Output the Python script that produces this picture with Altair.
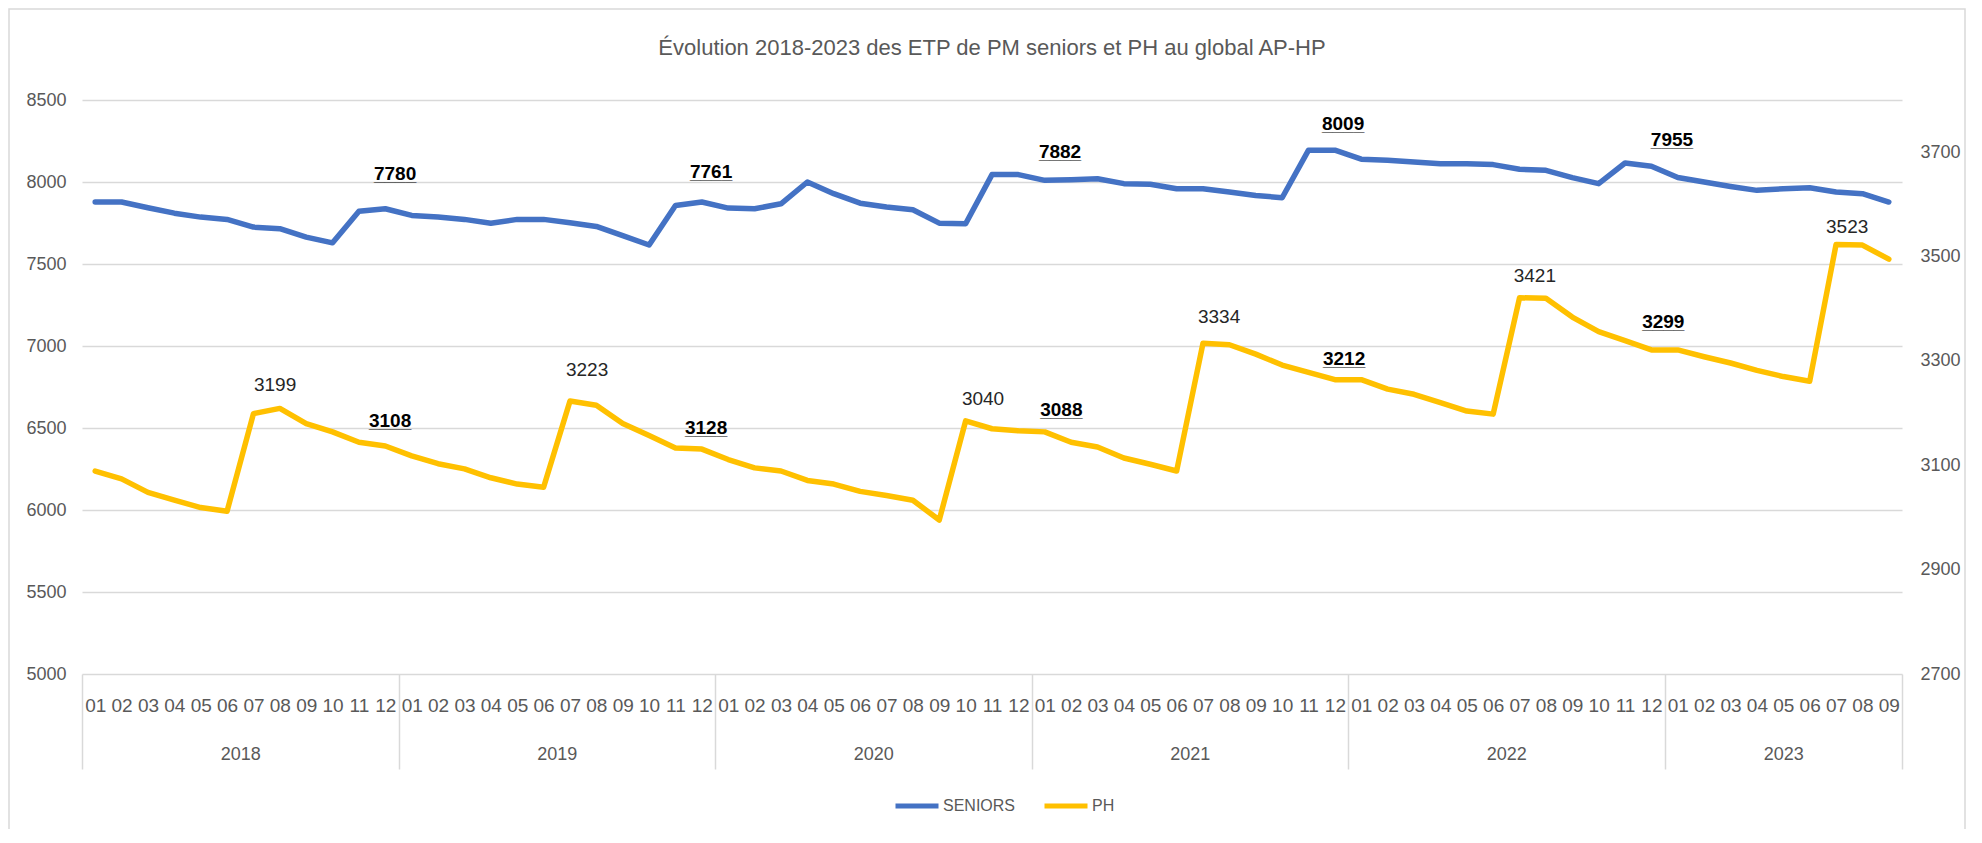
import json
import altair as alt
import pandas as pd

# ---------------- data ----------------
years = ["2018", "2019", "2020", "2021", "2022", "2023"]
months_per_year = [12, 12, 12, 12, 12, 9]
month_names = ["01", "02", "03", "04", "05", "06", "07", "08", "09", "10", "11", "12"]

seniors = [7878, 7878, 7843, 7810, 7786, 7772, 7725, 7715, 7664, 7629, 7821, 7837,
           7796, 7786, 7772, 7749, 7772, 7772, 7752, 7729, 7673, 7616, 7857, 7878,
           7841, 7837, 7867, 8000, 7929, 7871, 7847, 7831, 7749, 7745, 8045, 8045,
           8010, 8014, 8020, 7990, 7986, 7959, 7959, 7939, 7918, 7904, 8194, 8194,
           8139, 8133, 8122, 8112, 8112, 8106, 8078, 8071, 8027, 7990, 8116, 8096,
           8027, 8000, 7973, 7949, 7959, 7965, 7939, 7929, 7878]

ph = [3089, 3074, 3048, 3033, 3019, 3012, 3199, 3209, 3180, 3164, 3144, 3137,
      3118, 3103, 3093, 3076, 3064, 3058, 3223, 3215, 3180, 3157, 3133, 3131,
      3111, 3095, 3089, 3071, 3064, 3050, 3042, 3033, 2995, 3185, 3170, 3166,
      3164, 3144, 3135, 3114, 3102, 3089, 3334, 3331, 3313, 3292, 3278, 3264,
      3264, 3246, 3236, 3220, 3204, 3198, 3421, 3420, 3384, 3356, 3339, 3321,
      3321, 3308, 3296, 3282, 3270, 3261, 3523, 3522, 3495]

series_names = ["SENIORS", "PH"]
series_colors = ["#4472C4", "#FFC000"]

left_ticks = [5000, 5500, 6000, 6500, 7000, 7500, 8000, 8500]
right_ticks = [2700, 2900, 3100, 3300, 3500, 3700]
left_domain = [5000, 8500]
right_domain = [2700, 3800]

# annotations (text, position along the month axis, value on the series' axis)
sen_label_text = ["7780", "7761", "7882", "8009", "7955"]
sen_label_pos = [11.87, 23.85, 37.08, 47.81, 60.28]
sen_label_val = [8049, 8063, 8183, 8354, 8256]

ph_label_text = ["3199", "3108", "3223", "3128", "3040", "3088", "3334", "3212", "3421", "3299", "3523"]
ph_label_bold = [False, True, False, True, False, True, False, True, False, True, False]
ph_label_pos = [7.32, 11.68, 19.15, 23.66, 34.16, 37.13, 43.11, 47.85, 55.08, 59.95, 66.92]
ph_label_val = [3254, 3184, 3282, 3172, 3227, 3206, 3385, 3304, 3462, 3374, 3557]

TITLE = "Évolution 2018-2023 des ETP de PM seniors et PH au global AP-HP"

# ---------------- tables ----------------
month_labels = []
for y, n in zip(years, months_per_year):
    month_labels += month_names[:n]
N = len(month_labels)

rows = []
for i in range(N):
    rows.append({"pos": i + 0.5, "series": "SENIORS", "value": seniors[i]})
    rows.append({"pos": i + 0.5, "series": "PH", "value": ph[i]})
df = pd.DataFrame(rows)

sen_lab = pd.DataFrame({"pos": sen_label_pos, "value": sen_label_val, "label": sen_label_text})
sen_lab["ul"] = sen_lab["label"].apply(lambda s: "_" * len(s))
ph_lab = pd.DataFrame({"pos": ph_label_pos, "value": ph_label_val, "label": ph_label_text,
                       "bold": ph_label_bold})
ph_lab["ul"] = ph_lab["label"].apply(lambda s: "_" * len(s))

# year boundaries and centres
bounds = [0]
for n in months_per_year:
    bounds.append(bounds[-1] + n)
year_centres = [(bounds[k] + bounds[k + 1]) / 2 for k in range(len(years))]

# ---------------- style ----------------
FONT = "Liberation Sans, Arial, sans-serif"
GRAY = "#595959"
GRID = "#d9d9d9"
W, H = 1820, 574

xscale = alt.Scale(domain=[0, N], nice=False, zero=False)
yl = alt.Scale(domain=left_domain, nice=False, zero=False)
yr = alt.Scale(domain=right_domain, nice=False, zero=False)

month_axis = alt.Axis(values=[i + 0.5 for i in range(N)],
                      labelExpr=json.dumps(month_labels) + "[floor(datum.value)]",
                      orient="bottom", grid=False, domain=False, ticks=False,
                      labelPadding=22, labelFontSize=19, labelFont=FONT, labelColor=GRAY,
                      labelAngle=0, labelOverlap=False, labelFlush=False, labelBound=False,
                      title=None)
year_axis = alt.Axis(values=year_centres,
                     labelExpr=json.dumps(years) + "[floor(datum.value / 12)]",
                     orient="bottom", grid=False, domain=False, ticks=False,
                     labelPadding=71, labelFontSize=18, labelFont=FONT, labelColor=GRAY,
                     labelAngle=0, labelOverlap=False, labelFlush=False, labelBound=False,
                     title=None)
sep_axis = alt.Axis(values=bounds, orient="bottom", grid=False, domain=False,
                    ticks=True, tickSize=95, tickColor=GRID, tickWidth=1.5,
                    labels=False, title=None)
left_axis = alt.Axis(values=left_ticks, format="d", orient="left", grid=True, gridColor=GRID,
                     gridWidth=1.5, domain=False, ticks=False, labelPadding=16,
                     labelFontSize=18, labelFont=FONT, labelColor=GRAY, title=None)
right_axis = alt.Axis(values=right_ticks, format="d", orient="right", grid=False, domain=False,
                      ticks=False, labelPadding=18, labelFontSize=18, labelFont=FONT,
                      labelColor=GRAY, title=None)

color = alt.Color("series:N", scale=alt.Scale(domain=series_names, range=series_colors),
                  legend=alt.Legend(orient="none", legendX=811, legendY=682,
                                    direction="horizontal", title=None,
                                    symbolType="stroke", symbolSize=1849,
                                    symbolStrokeWidth=5, labelFontSize=16,
                                    labelFont=FONT, labelColor=GRAY, labelOffset=2,
                                    columnPadding=18, padding=0))

base = alt.Chart(df)
sen_line = base.transform_filter(alt.datum.series == "SENIORS").mark_line(
    strokeWidth=5.5, strokeJoin="round", strokeCap="round").encode(
    x=alt.X("pos:Q", scale=xscale, axis=month_axis),
    y=alt.Y("value:Q", scale=yl, axis=left_axis),
    color=color)
ph_line = base.transform_filter(alt.datum.series == "PH").mark_line(
    strokeWidth=5.5, strokeJoin="round", strokeCap="round").encode(
    x=alt.X("pos:Q", scale=xscale, axis=year_axis),
    y=alt.Y("value:Q", scale=yr, axis=right_axis),
    color=color)

sen_txt = alt.Chart(sen_lab).mark_text(font=FONT, fontSize=19, fontWeight="bold",
                                       color="#000000", baseline="middle").encode(
    x=alt.X("pos:Q", scale=xscale, axis=sep_axis),
    y=alt.Y("value:Q", scale=yl, axis=None),
    text="label:N")
sen_ul = alt.Chart(sen_lab).mark_text(font=FONT, fontSize=19, fontWeight="bold",
                                      color="#000000", baseline="middle", dy=1).encode(
    x=alt.X("pos:Q", scale=xscale, axis=None),
    y=alt.Y("value:Q", scale=yl, axis=None),
    text="ul:N")
ph_plain = alt.Chart(ph_lab).transform_filter("!datum.bold").mark_text(
    font=FONT, fontSize=19, color="#262626", baseline="middle").encode(
    x=alt.X("pos:Q", scale=xscale, axis=None),
    y=alt.Y("value:Q", scale=yr, axis=None),
    text="label:N")
ph_bold = alt.Chart(ph_lab).transform_filter("datum.bold").mark_text(
    font=FONT, fontSize=19, fontWeight="bold", color="#000000", baseline="middle").encode(
    x=alt.X("pos:Q", scale=xscale, axis=None),
    y=alt.Y("value:Q", scale=yr, axis=None),
    text="label:N")
ph_ul = alt.Chart(ph_lab).transform_filter("datum.bold").mark_text(
    font=FONT, fontSize=19, fontWeight="bold", color="#000000", baseline="middle", dy=1).encode(
    x=alt.X("pos:Q", scale=xscale, axis=None),
    y=alt.Y("value:Q", scale=yr, axis=None),
    text="ul:N")

frame = alt.Chart(pd.DataFrame({"f": [0]})).mark_rect(
    fillOpacity=0, stroke=GRID, strokeWidth=1.5).encode(
    x=alt.value(-73), x2=alt.value(W + 63), y=alt.value(-91), y2=alt.value(H + 300))

chart = alt.layer(frame, sen_line, ph_line, sen_txt, sen_ul, ph_plain, ph_bold, ph_ul).resolve_scale(
    y="independent").resolve_axis(x="independent", y="independent").properties(
    width=W, height=H,
    title=alt.TitleParams(TITLE, font=FONT, fontSize=22, fontWeight="normal", color=GRAY,
                          anchor="middle", frame="group", baseline="alphabetic", offset=-69),
    autosize=alt.AutoSizeParams(type="none"),
    padding={"left": 74, "top": 92, "right": 64, "bottom": 155},
).configure_view(stroke=None)

chart.save("out.html", embed_options={"renderer": "svg", "actions": False})
